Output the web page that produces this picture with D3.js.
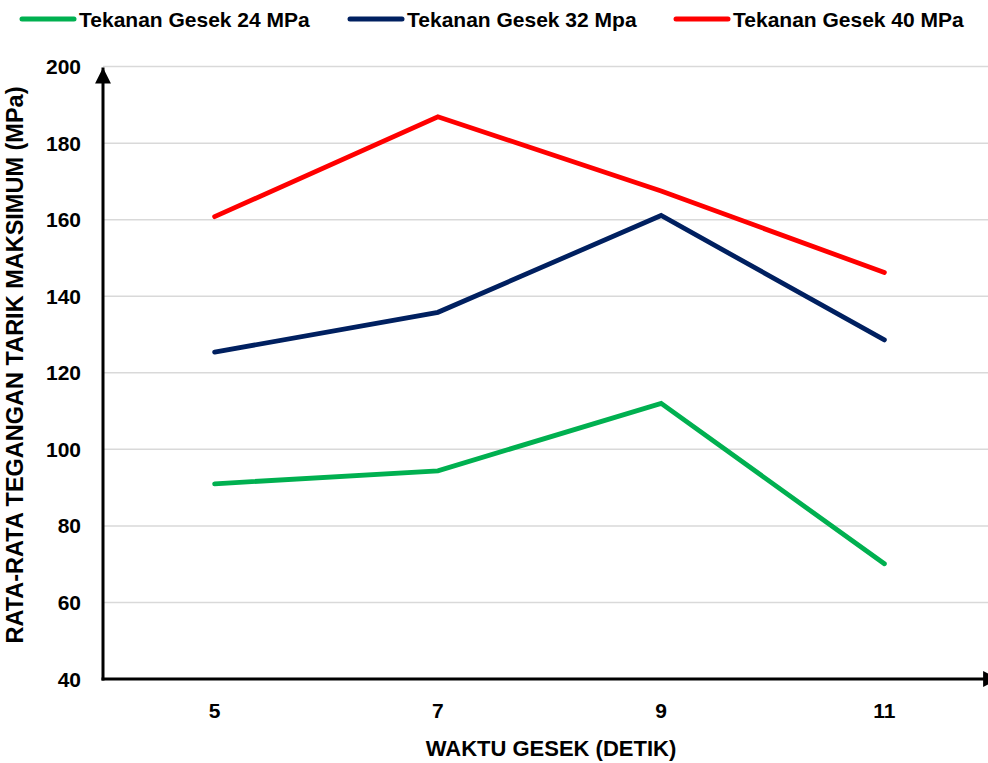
<!DOCTYPE html>
<meta charset="utf-8">
<html>
<head>
<script src="https://d3js.org/d3.v7.min.js"></script>
<style>
  body { margin: 0; background: #fff; }
  text { font-family: "Liberation Sans", Arial, sans-serif; font-weight: bold; fill: #000; }
</style>
</head>
<body>
<script>
// data
var waktu = ["5", "7", "9", "11"];
var seriesNames = ["Tekanan Gesek 24 MPa", "Tekanan Gesek 32 Mpa", "Tekanan Gesek 40 MPa"];
var seriesColors = ["#00B050", "#002060", "#FF0000"];
var gesek24 = [91.0, 94.4, 112.0, 70.1];
var gesek32 = [125.4, 135.8, 161.1, 128.6];
var gesek40 = [160.8, 186.9, 167.5, 146.2];
var yTicks = [40, 60, 80, 100, 120, 140, 160, 180, 200];

var allSeries = [gesek24, gesek32, gesek40];

var W = 988, H = 763;
var plotLeft = 103, plotRight = 996, plotTop = 66.6, plotBottom = 679;

var svg = d3.select("body").append("svg")
  .attr("width", W).attr("height", H);

var x = d3.scalePoint().domain(waktu).range([plotLeft, plotRight]).padding(0.5);
var y = d3.scaleLinear().domain([40, 200]).range([plotBottom, plotTop]);

// gridlines
svg.append("g")
  .selectAll("line")
  .data(yTicks.slice(1))
  .enter().append("line")
    .attr("x1", plotLeft).attr("x2", W)
    .attr("y1", function(d) { return y(d); })
    .attr("y2", function(d) { return y(d); })
    .attr("stroke", "#D9D9D9")
    .attr("stroke-width", 1.5);

// y tick labels
svg.append("g")
  .selectAll("text")
  .data(yTicks)
  .enter().append("text")
    .attr("x", 81)
    .attr("y", function(d) { return y(d); })
    .attr("dy", "0.36em")
    .attr("text-anchor", "end")
    .attr("font-size", 21)
    .text(function(d) { return d; });

// x tick labels
svg.append("g")
  .selectAll("text")
  .data(waktu)
  .enter().append("text")
    .attr("x", function(d) { return x(d); })
    .attr("y", 718)
    .attr("text-anchor", "middle")
    .attr("font-size", 21)
    .text(function(d) { return d; });

// axes with arrows
var defs = svg.append("defs");
defs.append("marker")
  .attr("id", "arrow")
  .attr("viewBox", "0 0 10 10")
  .attr("refX", 10).attr("refY", 5)
  .attr("markerWidth", 5.3).attr("markerHeight", 5.3)
  .attr("markerUnits", "strokeWidth")
  .attr("orient", "auto")
  .append("path")
    .attr("d", "M0,0 L10,5 L0,10 Z")
    .attr("fill", "#000");

svg.append("line")
  .attr("x1", plotLeft).attr("y1", plotBottom + 1.5)
  .attr("x2", plotLeft).attr("y2", plotTop + 1)
  .attr("stroke", "#000").attr("stroke-width", 3)
  .attr("marker-end", "url(#arrow)");

svg.append("line")
  .attr("x1", plotLeft - 1.5).attr("y1", plotBottom)
  .attr("x2", 999).attr("y2", plotBottom)
  .attr("stroke", "#000").attr("stroke-width", 3)
  .attr("marker-end", "url(#arrow)");

// series lines
var line = d3.line()
  .x(function(d, i) { return x(waktu[i]); })
  .y(function(d) { return y(d); });

svg.append("g")
  .selectAll("path")
  .data(allSeries)
  .enter().append("path")
    .attr("d", line)
    .attr("fill", "none")
    .attr("stroke", function(d, i) { return seriesColors[i]; })
    .attr("stroke-width", 4.8)
    .attr("stroke-linecap", "round")
    .attr("stroke-linejoin", "miter");

// legend
var legendX = [20, 348, 674];
var legend = svg.append("g")
  .selectAll("g")
  .data(seriesNames)
  .enter().append("g")
    .attr("transform", function(d, i) { return "translate(" + legendX[i] + ",19)"; });

legend.append("line")
  .attr("x1", 2).attr("x2", 54)
  .attr("stroke", function(d, i) { return seriesColors[i]; })
  .attr("stroke-width", 5)
  .attr("stroke-linecap", "round");

legend.append("text")
  .attr("x", 59)
  .attr("dy", "0.36em")
  .attr("font-size", 21)
  .text(function(d) { return d; });

// axis titles
svg.append("text")
  .attr("x", 551).attr("y", 756)
  .attr("text-anchor", "middle")
  .attr("font-size", 22)
  .text("WAKTU GESEK (DETIK)");

svg.append("text")
  .attr("transform", "translate(23,365) rotate(-90)")
  .attr("text-anchor", "middle")
  .attr("font-size", 23.5)
  .text("RATA-RATA TEGANGAN TARIK MAKSIMUM (MPa)");
</script>
</body>
</html>
